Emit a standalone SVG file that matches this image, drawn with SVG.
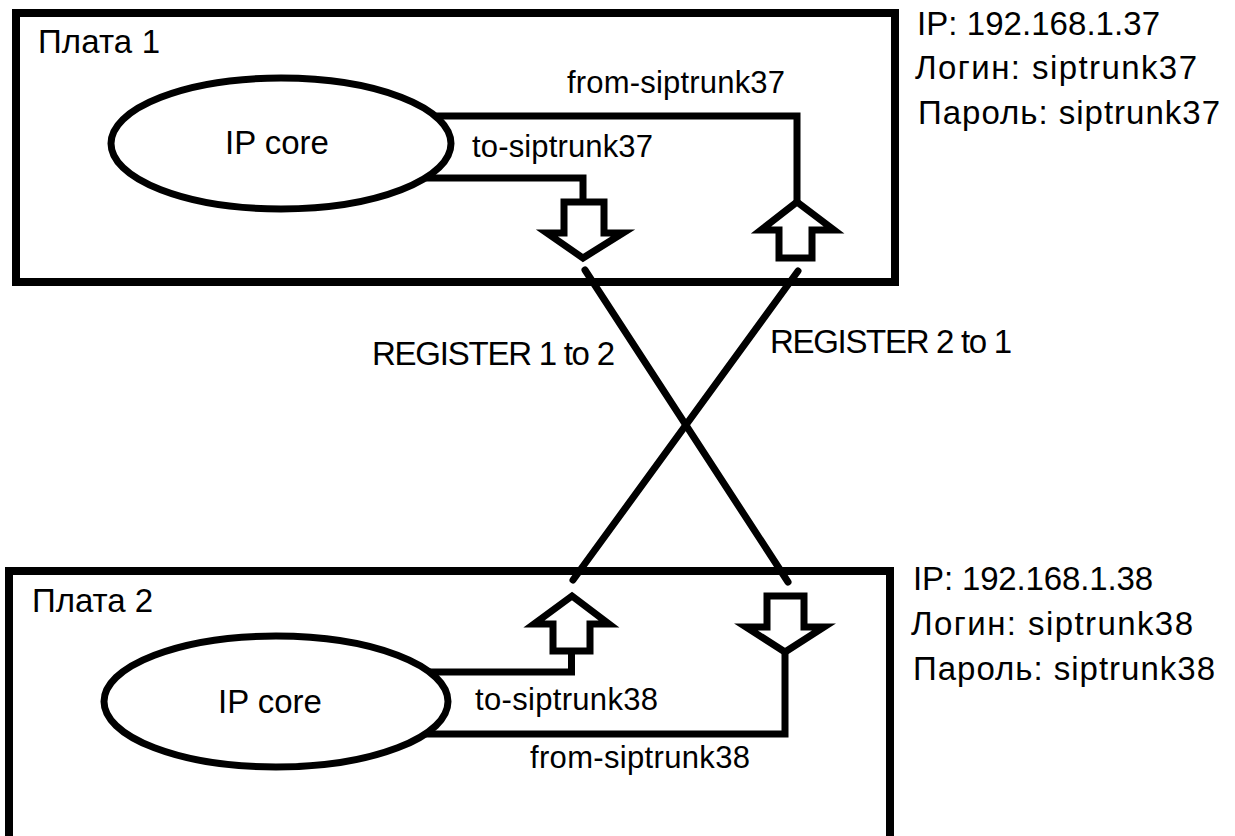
<svg xmlns="http://www.w3.org/2000/svg" width="1235" height="836" viewBox="0 0 1235 836">
<style>
.box{fill:none;stroke:#000;stroke-width:8}
.core{fill:none;stroke:#000;stroke-width:7}
.arr{fill:#fff;stroke:#000;stroke-width:7;stroke-linejoin:miter}
.ln{fill:none;stroke:#000;stroke-width:7;stroke-linejoin:miter}
.x{fill:none;stroke:#000;stroke-width:7;stroke-linecap:round}
text{font-family:"Liberation Sans",Arial,sans-serif;fill:#000}
.big{font-size:33px}
.lbl{font-size:31px}
</style>
<rect width="1235" height="836" fill="#fff"/>
<g id="board1">
<rect class="box" x="16" y="13" width="879" height="269"/>
<text class="big" x="38" y="53" textLength="122">Плата 1</text>
</g>
<g id="board2">
<path class="box" d="M9,845 V571 H890 V845"/>
<text class="big" x="32" y="612" textLength="121">Плата 2</text>
</g>
<g id="core1">
<ellipse class="core" cx="281" cy="143.5" rx="170" ry="65.5"/>
<text class="big" x="277" y="154" text-anchor="middle">IP core</text>
</g>
<g id="core2">
<ellipse class="core" cx="276" cy="701.5" rx="172" ry="65.5"/>
<text class="big" x="270" y="713" text-anchor="middle">IP core</text>
</g>
<g id="arrow-out1">
<polygon class="arr" points="564,202 604,202 604,233 623,233 583,258 547,233 564,233"/>
</g>
<g id="arrow-in1">
<polygon class="arr" points="797,202 834,230 812,230 812,258 779,258 779,230 761,230"/>
</g>
<g id="arrow-out2">
<polygon class="arr" points="572,596 609,624 590,624 590,651 553,651 553,624 534,624"/>
</g>
<g id="arrow-in2">
<polygon class="arr" points="767,596 804,596 804,627 824,627 785,652 746,627 767,627"/>
</g>
<g id="connectors">
<path class="ln" d="M435,116 H797 V202"/>
<path class="ln" d="M426,178 H583 V202"/>
<path class="ln" d="M430,672 H571.5 V651"/>
<path class="ln" d="M785,652 V734 H425"/>
<line class="x" x1="585" y1="270" x2="788" y2="582"/>
<line class="x" x1="798" y1="271" x2="573" y2="580"/>
<text class="lbl" x="567" y="93" textLength="218">from-siptrunk37</text>
<text class="lbl" x="472" y="157" textLength="181">to-siptrunk37</text>
<text class="lbl" x="475" y="710" textLength="183">to-siptrunk38</text>
<text class="lbl" x="530" y="768" textLength="220">from-siptrunk38</text>
<text class="big" x="372" y="365" textLength="243">REGISTER 1 to 2</text>
<text class="big" x="770" y="353" textLength="242">REGISTER 2 to 1</text>
</g>
<g id="info1">
<text class="big" x="917" y="35" textLength="243">IP: 192.168.1.37</text>
<text class="big" x="915" y="79" textLength="282">Логин: siptrunk37</text>
<text class="big" x="918" y="124" textLength="302">Пароль: siptrunk37</text>
</g>
<g id="info2">
<text class="big" x="913" y="590" textLength="240">IP: 192.168.1.38</text>
<text class="big" x="911" y="635" textLength="282">Логин: siptrunk38</text>
<text class="big" x="913" y="680" textLength="302">Пароль: siptrunk38</text>
</g>
</svg>
